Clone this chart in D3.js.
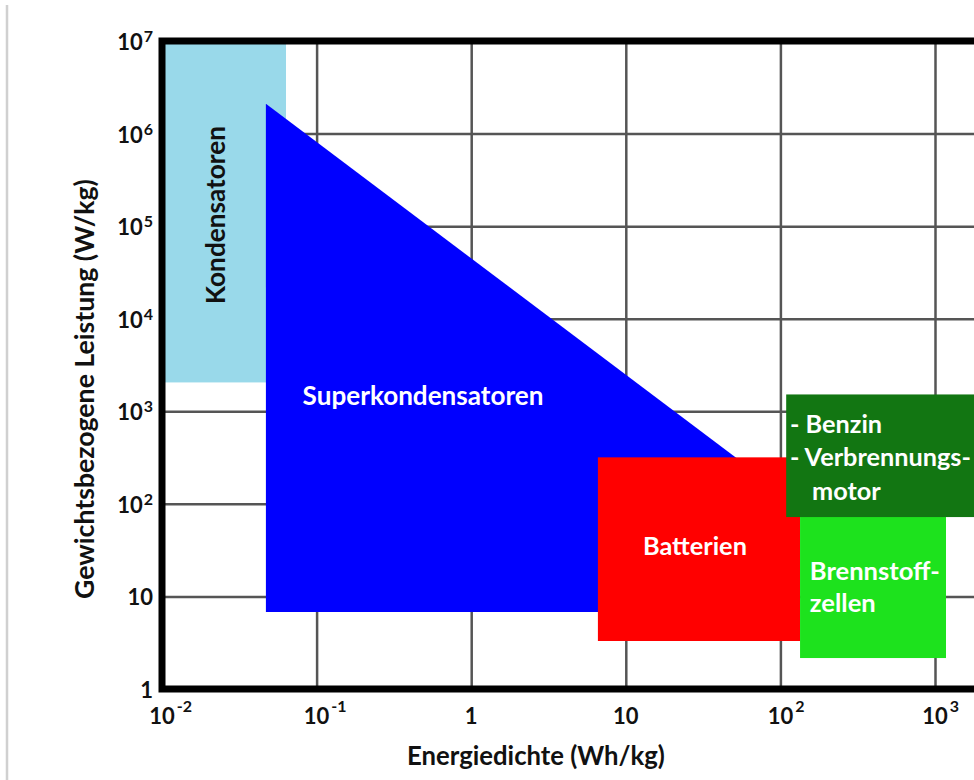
<!DOCTYPE html>
<html><head><meta charset="utf-8">
<script src="https://cdn.jsdelivr.net/npm/d3@7"></script>
<style>
body{margin:0;background:#fff;}
svg{display:block;}
text{font-family:Lato,'Open Sans',sans-serif;font-weight:700;}
</style>
</head><body>
<svg id="c" width="974" height="780"></svg>
<script>
// ---- data ----
const xTickExp = [-2, -1, 0, 1, 2, 3];
const xTickBase = ["10", "10", "1", "10", "10", "10"];
const xTickSup = ["-2", "-1", "", "", "2", "3"];
const yTickExp = [0, 1, 2, 3, 4, 5, 6, 7];
const yTickBase = ["1", "10", "10", "10", "10", "10", "10", "10"];
const yTickSup = ["", "", "2", "3", "4", "5", "6", "7"];

const rectNames = ["Kondensatoren", "Batterien", "Brennstoffzellen", "Benzin"];
const rectEnergyMin = [0.01, 6.6, 134, 109];
const rectEnergyMax = [0.0634, 134, 1178, 5000];
const rectPowerMin = [2050, 3.3, 2.16, 72];
const rectPowerMax = [1e7, 318, 100, 1520];
const rectColors = ["#99d9ea", "#ff0000", "#1de21d", "#127612"];

const superEnergy = [0.047, 100, 100, 0.047];
const superPower = [2.1e6, 137, 6.8, 6.8];
const superColor = "#0000ff";

const labelLines = [["Kondensatoren"], ["Superkondensatoren"], ["Batterien"], ["Brennstoff-", "zellen"], ["- Benzin", "- Verbrennungs-", "motor"]];
const labelEnergy = [0.023, 0.488, 28, 155, 117];
const labelPower = [1.32e5, 1160, 27.9, 15, 0];

const xTitle = "Energiedichte (Wh/kg)";
const yTitle = "Gewichtsbezogene Leistung (W/kg)";

// ---- layout ----
const svg = d3.select("#c");
const X0 = 162, DEC = 154.6;
const x = d3.scaleLog().domain([1e-2, Math.pow(10, 3.3)]).range([X0, X0 + 5.3 * DEC]);
const y = d3.scaleLog().domain([1, 1e7]).range([689, 41]);
const yTop = y(1e7), yBot = y(1), xRight = x.range()[1];

// left decorative gray line
svg.append("line").attr("x1", 7).attr("x2", 7).attr("y1", 5).attr("y2", 780)
  .attr("stroke", "#d0d0d0").attr("stroke-width", 2.5);

// grid lines via axes
const gx = svg.append("g").attr("transform", `translate(0,${yBot})`)
  .call(d3.axisBottom(x).tickValues(xTickExp.slice(1).map(e => Math.pow(10, e)))
    .tickSize(-(yBot - yTop)).tickFormat(""));
const gy = svg.append("g").attr("transform", `translate(${X0},0)`)
  .call(d3.axisLeft(y).tickValues(yTickExp.slice(1, -1).map(e => Math.pow(10, e)))
    .tickSize(-(xRight - X0)).tickFormat(""));
[gx, gy].forEach(g => {
  g.select(".domain").remove();
  g.selectAll(".tick line").attr("stroke", "#555").attr("stroke-width", 2.5);
});

function drawRect(i) {
  svg.append("rect")
    .attr("x", x(rectEnergyMin[i])).attr("width", x(rectEnergyMax[i]) - x(rectEnergyMin[i]))
    .attr("y", y(rectPowerMax[i])).attr("height", y(rectPowerMin[i]) - y(rectPowerMax[i]))
    .attr("fill", rectColors[i]);
}
drawRect(0);
// Superkondensatoren polygon
svg.append("path")
  .attr("d", d3.line()(superEnergy.map((e, k) => [x(e), y(superPower[k])])) + "Z")
  .attr("fill", superColor);
drawRect(1); drawRect(2); drawRect(3);

// borders
svg.append("path")
  .attr("d", `M${xRight},${yTop}H${X0}V${yBot}H${xRight}`)
  .attr("fill", "none").attr("stroke", "#000").attr("stroke-width", 7)
  .attr("stroke-linecap", "square");

// fit helper
function fit(sel, target) {
  const w = sel.node().getComputedTextLength();
  const fs = parseFloat(sel.style("font-size"));
  const nf = fs * target / w;
  sel.style("font-size", nf + "px");
  return nf;
}

// tick labels
const tickFont = 22, supFont = 16;
xTickExp.forEach((e, i) => {
  const cx = x(Math.pow(10, e));
  const t = svg.append("text").attr("y", 724).attr("fill", "#111").style("font-size", tickFont + "px");
  t.append("tspan").text(xTickBase[i]);
  const bw = t.node().getComputedTextLength();
  t.attr("x", cx - bw / 2);
  if (xTickSup[i]) t.append("tspan").attr("dx", 2).attr("dy", -12).style("font-size", supFont + "px").text(xTickSup[i]);
});
yTickExp.forEach((e, i) => {
  const cy = y(Math.pow(10, e));
  const t = svg.append("text").attr("x", 153).attr("y", cy + 9).attr("text-anchor", "end")
    .attr("fill", "#111").style("font-size", tickFont + "px");
  t.append("tspan").text(yTickBase[i]);
  if (yTickSup[i]) t.append("tspan").attr("dx", 1).attr("dy", -8).style("font-size", supFont + "px").text(yTickSup[i]);
});

// axis titles
const xt = svg.append("text").attr("x", 536).attr("y", 765).attr("text-anchor", "middle")
  .attr("fill", "#111").style("font-size", "20px").text(xTitle);
fit(xt, 258);
const yt = svg.append("text").attr("transform", "translate(94,389) rotate(-90)").attr("text-anchor", "middle")
  .attr("fill", "#111").style("font-size", "20px").text(yTitle);
fit(yt, 420);

// region labels
const k = svg.append("text")
  .attr("transform", `translate(${x(labelEnergy[0]) + 7},${y(labelPower[0])}) rotate(-90)`)
  .attr("text-anchor", "middle").attr("fill", "#111").style("font-size", "20px").text(labelLines[0][0]);
fit(k, 178);
const s = svg.append("text").attr("x", x(labelEnergy[1])).attr("y", y(labelPower[1]))
  .attr("text-anchor", "middle").attr("fill", "#fff").style("font-size", "20px").text(labelLines[1][0]);
fit(s, 241);
const b = svg.append("text").attr("x", x(labelEnergy[2])).attr("y", y(labelPower[2]))
  .attr("text-anchor", "middle").attr("fill", "#fff").style("font-size", "20px").text(labelLines[2][0]);
fit(b, 104);
const bz0 = svg.append("text").attr("x", x(labelEnergy[3])).attr("y", y(labelPower[3]))
  .attr("fill", "#fff").style("font-size", "20px").text(labelLines[3][0]);
const bzf = fit(bz0, 130);
svg.append("text").attr("x", x(labelEnergy[3])).attr("y", y(labelPower[3]) + 32)
  .attr("fill", "#fff").style("font-size", bzf + "px").text(labelLines[3][1]);
const bx = 790, by = [433, 466, 500], bxo = [0, 0, 22];
const bes = labelLines[4].map((l, j) => svg.append("text").attr("x", bx + bxo[j]).attr("y", by[j])
  .attr("fill", "#fff").style("font-size", "20px").text(l));
const bef = fit(bes[1], 181);
bes.forEach(t => t.style("font-size", bef + "px"));
</script>
</body></html>
